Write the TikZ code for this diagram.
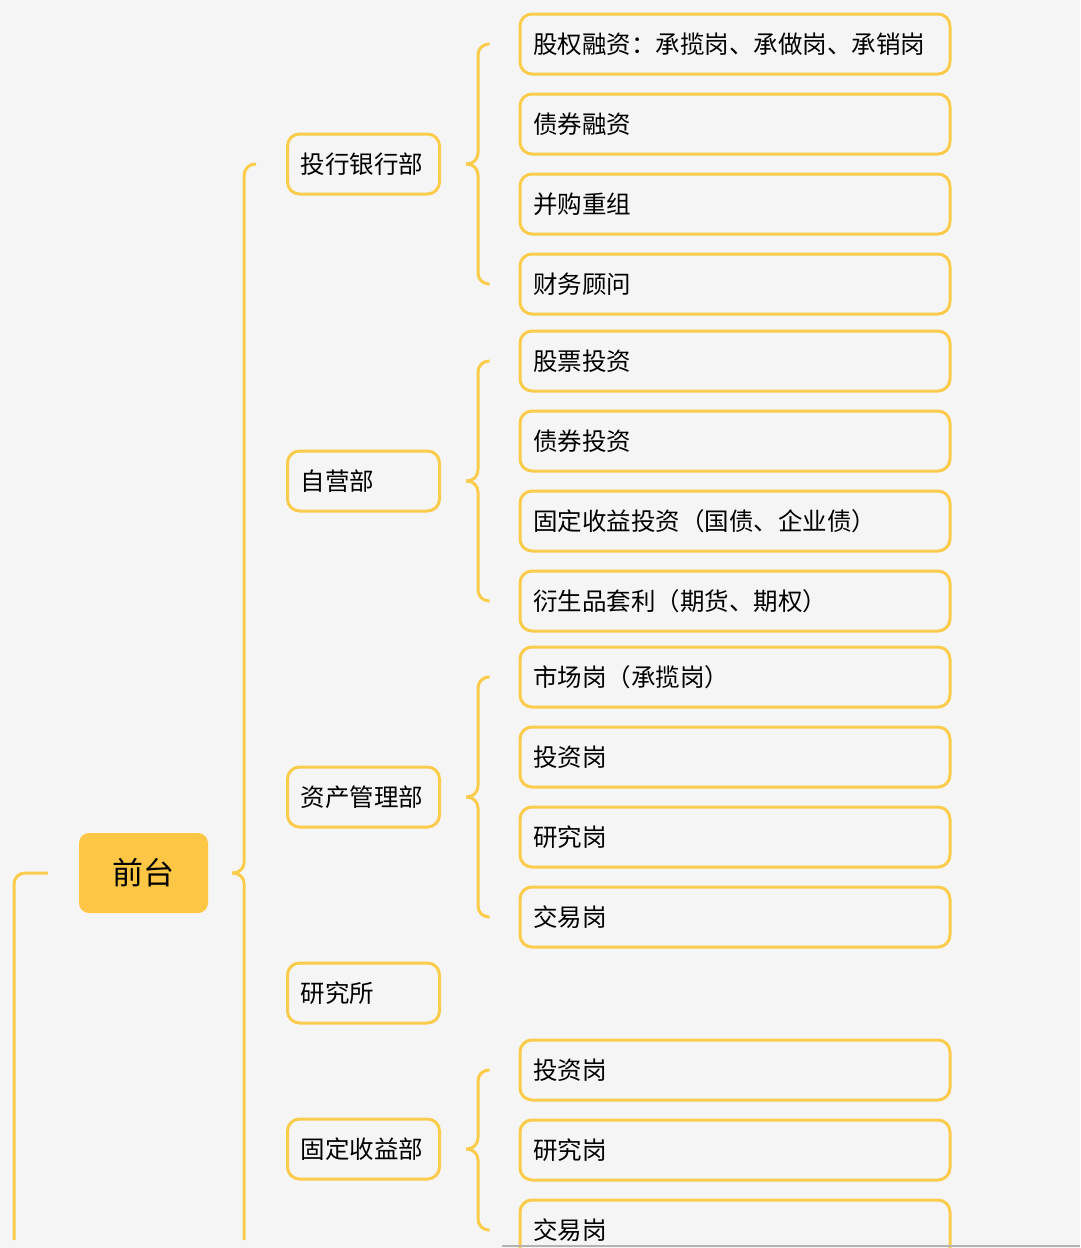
\documentclass[tikz,border=0pt]{standalone}
\usepackage{fontspec}
\setmainfont{Noto Sans CJK SC}
\usepackage{tikz}
\usetikzlibrary{positioning,calc}
\definecolor{rim}{HTML}{FBCB4C}
\definecolor{rootfill}{HTML}{FDC645}
\definecolor{bgc}{HTML}{F5F5F5}
\tikzset{
  leafbox/.style={draw=rim,line width=3pt,rounded corners=12pt,minimum height=60pt,text width=404pt,align=left,inner xsep=13pt,font=\fontsize{24.5}{29}\selectfont},
  deptbox/.style={draw=rim,line width=3pt,rounded corners=12pt,minimum height=60pt,text width=126pt,align=left,inner xsep=13pt,font=\fontsize{24.5}{29}\selectfont},
  brace/.style={draw=rim,line width=3pt,rounded corners=11pt}
}
\begin{document}
\begin{tikzpicture}[x=1pt,y=1pt,yscale=-1]
        \fill[bgc] (0,0) rectangle (1080,1248);
        \useasboundingbox (0,0) rectangle (1080,1248);

        % root
        \node [fill=rootfill,rounded corners=10pt,minimum width=129pt,minimum height=80pt,font=\fontsize{31}{36}\selectfont] (root) at (143.5,873) {前台};

        % departments
        \node [deptbox] (bank) at (363.5,164) {投行银行部};
        \node [deptbox] (self) at (363.5,481) {自营部};
        \node [deptbox] (asset) at (363.5,797) {资产管理部};
        \node [deptbox] (inst) at (363.5,993) {研究所};
        \node [deptbox] (fixed) at (363.5,1149) {固定收益部};

        % leaves
        \node [leafbox] (b1) at (735,44) {股权融资：承揽岗、承做岗、承销岗};
        \node [leafbox] (b2) at (735,124) {债券融资};
        \node [leafbox] (b3) at (735,204) {并购重组};
        \node [leafbox] (b4) at (735,284) {财务顾问};
        \node [leafbox] (s1) at (735,361) {股票投资};
        \node [leafbox] (s2) at (735,441) {债券投资};
        \node [leafbox] (s3) at (735,521) {固定收益投资（国债、企业债）};
        \node [leafbox] (s4) at (735,601) {衍生品套利（期货、期权）};
        \node [leafbox] (a1) at (735,677) {市场岗（承揽岗）};
        \node [leafbox] (a2) at (735,757) {投资岗};
        \node [leafbox] (a3) at (735,837) {研究岗};
        \node [leafbox] (a4) at (735,917) {交易岗};
        \node [leafbox] (f1) at (735,1070) {投资岗};
        \node [leafbox] (f2) at (735,1150) {研究岗};
        \node [leafbox] (f3) at (735,1230) {交易岗};

        % brace tips
        \coordinate (tbank) at ([xshift=25pt]bank.east);
        \coordinate (tself) at ([xshift=25pt]self.east);
        \coordinate (tasset) at ([xshift=25pt]asset.east);
        \coordinate (tfixed) at ([xshift=25pt]fixed.east);
        \coordinate (troot) at ([xshift=24pt]root.east);
        \coordinate (lroot) at ([xshift=-31pt]root.west);

        % braces
        \draw [brace] (tbank) -- ([xshift=12pt]tbank) |- ([xshift=-29pt]b1.west);
        \draw [brace] (tbank) -- ([xshift=12pt]tbank) |- ([xshift=-29pt]b4.west);
        \draw [brace] (tself) -- ([xshift=12pt]tself) |- ([xshift=-29pt]s1.west);
        \draw [brace] (tself) -- ([xshift=12pt]tself) |- ([xshift=-29pt]s4.west);
        \draw [brace] (tasset) -- ([xshift=12pt]tasset) |- ([xshift=-29pt]a1.west);
        \draw [brace] (tasset) -- ([xshift=12pt]tasset) |- ([xshift=-29pt]a4.west);
        \draw [brace] (tfixed) -- ([xshift=12pt]tfixed) |- ([xshift=-29pt]f1.west);
        \draw [brace] (tfixed) -- ([xshift=12pt]tfixed) |- ([xshift=-29pt]f3.west);
        \draw [brace] (troot) -- ([xshift=12pt]troot) |- ([xshift=-30pt]bank.west);
        \draw [brace] (troot) -- ([xshift=12pt]troot) -- ([xshift=12pt]troot |- 0,1240);
        \draw [brace] (lroot) -| (14,1240);

        % scroll bar
        \draw [gray!60,line width=2pt] (502,1246) -- (1080,1246);
\end{tikzpicture}
\end{document}
